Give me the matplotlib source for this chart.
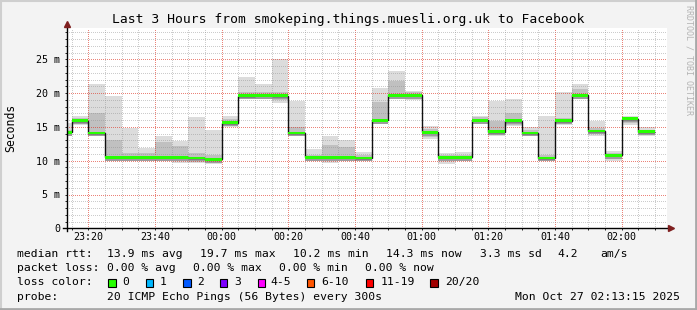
import numpy as np
import pandas as pd
import matplotlib
matplotlib.use("Agg")
import matplotlib.pyplot as plt
import matplotlib.dates as mdates
from matplotlib.patches import Rectangle
from matplotlib.lines import Line2D

# ---------------- data ----------------
bucket_start = pd.date_range("2025-10-26 23:10", "2025-10-27 02:05", freq="5min")  # 36 buckets of 5 min
view_start = pd.Timestamp("2025-10-26 23:13:30")
view_end = pd.Timestamp("2025-10-27 02:13:30")

median_ms = [14.2, 15.9, 14.1, 10.5, 10.5, 10.5, 10.5, 10.5, 10.4, 10.2,
             15.6, 19.6, 19.7, 19.6, 14.1, 10.5, 10.5, 10.5, 10.4, 16.0,
             19.7, 19.7, 14.2, 10.5, 10.5, 16.0, 14.3, 15.9, 14.1, 10.4,
             15.9, 19.7, 14.4, 10.8, 16.2, 14.3]
min_ms = [13.7, 15.3, 13.8, 9.9, 10.0, 10.0, 10.0, 9.7, 9.6, 9.5,
          15.0, 19.2, 19.2, 18.6, 13.6, 9.9, 9.7, 10.1, 10.1, 15.5,
          19.1, 19.0, 13.2, 9.5, 10.2, 15.7, 13.7, 15.1, 13.6, 9.9,
          15.3, 19.1, 13.7, 10.0, 15.3, 13.6]
max_ms = [15.6, 16.6, 21.3, 19.6, 14.8, 11.9, 13.7, 12.9, 16.5, 14.6,
          16.6, 22.4, 21.3, 25.0, 18.8, 11.7, 13.7, 13.0, 11.3, 20.8,
          23.2, 20.3, 15.1, 11.2, 11.3, 16.6, 18.8, 19.1, 15.0, 16.6,
          20.1, 21.3, 15.9, 11.4, 16.6, 15.0]
core_lo_ms = [13.9, 15.5, 13.8, 10.0, 10.1, 10.1, 10.1, 9.9, 9.8, 9.7,
              15.2, 19.2, 19.3, 19.0, 13.7, 10.0, 10.0, 10.2, 10.2, 15.6,
              19.2, 19.2, 13.5, 10.0, 10.3, 15.8, 13.8, 15.3, 13.8, 10.0,
              15.5, 19.3, 13.9, 10.2, 15.6, 13.8]
core_hi_ms = [14.6, 16.3, 17.0, 13.0, 11.2, 11.2, 12.7, 12.2, 11.2, 10.9,
              16.2, 20.2, 20.1, 20.1, 15.0, 10.9, 12.3, 12.1, 10.9, 18.7,
              21.8, 20.1, 14.7, 10.9, 10.9, 16.4, 15.8, 17.0, 14.5, 10.9,
              16.3, 20.6, 14.8, 11.2, 16.5, 14.6]

y_ticks = [0, 5, 10, 15, 20, 25]
y_tick_labels = ["0", "5 m", "10 m", "15 m", "20 m", "25 m"]

title = "Last 3 Hours from smokeping.things.muesli.org.uk to Facebook"
rtt_stats = ["median rtt:", "13.9 ms avg", "19.7 ms max", "10.2 ms min",
             "14.3 ms now", "3.3 ms sd", "4.2", "am/s"]
loss_stats = ["packet loss:", "0.00 % avg", "0.00 % max", "0.00 % min", "0.00 % now"]
loss_labels = ["0", "1", "2", "3", "4-5", "6-10", "11-19", "20/20"]
loss_colors = ["#26ff00", "#00b8ff", "#0059ff", "#7e00ff", "#ff00ff", "#ff5500", "#ff0000", "#a10000"]
probe_text = "20 ICMP Echo Pings (56 Bytes) every 300s"
stamp_text = "Mon Oct 27 02:13:15 2025"

# ---------------- layout ----------------
W, H = 697, 310
DPI = 100
MONO = "DejaVu Sans Mono"
plt.rcParams["font.family"] = MONO

fig = plt.figure(figsize=(W / DPI, H / DPI), dpi=DPI, facecolor="#f3f3f3")

def fx(px):
    return px / W

def fy(py):
    return 1 - py / H

ax_l, ax_r, ax_t, ax_b = 66.7, 666.7, 28.3, 228.3
ax = fig.add_axes([fx(ax_l), fy(ax_b), fx(ax_r - ax_l), (ax_b - ax_t) / H])
ax.set_facecolor("white")

x = mdates.date2num(bucket_start.to_pydatetime())
width = 5.0 / 1440.0
med = np.array(median_ms)
lo = np.array(min_ms)
hi = np.array(max_ms)
clo = np.array(core_lo_ms)
chi = np.array(core_hi_ms)

ax.bar(x, hi - lo, bottom=lo, width=width, align="edge", color="#dcdcdc", lw=0, zorder=1)
ax.bar(x, chi - clo, bottom=clo, width=width, align="edge", color="#c0c0c0", lw=0, zorder=1.1)
ax.bar(x, np.full_like(med, 0.7), bottom=med - 0.5, width=width, align="edge",
       color="#9c9c9c", lw=0, zorder=1.2)
edges = np.append(x, x[-1] + width)
ax.stairs(med, edges, baseline=None, color="#111111", lw=1.0, zorder=3)
ax.bar(x, np.full_like(med, 0.42), bottom=med - 0.21, width=width, align="edge",
       color=loss_colors[0], lw=0, zorder=4)

ax.set_xlim(mdates.date2num(view_start.to_pydatetime()), mdates.date2num(view_end.to_pydatetime()))
ax.set_ylim(0, (ax_b - ax_t) / 6.76)

# ticks / grid
ax.xaxis.set_major_locator(mdates.MinuteLocator(byminute=[0, 20, 40]))
ax.xaxis.set_minor_locator(mdates.MinuteLocator(byminute=[5, 10, 15, 25, 30, 35, 45, 50, 55]))
ax.xaxis.set_major_formatter(mdates.DateFormatter("%H:%M"))
ax.set_yticks(y_ticks)
ax.set_yticklabels(y_tick_labels)
ax.set_yticks([v for v in range(0, 30) if v % 5 != 0], minor=True)

ax.set_axisbelow(False)
ax.grid(which="major", color="#de3020", alpha=0.6, lw=1.0, ls=(0, (0.72, 1.44)), antialiased=False)
ax.grid(which="minor", color="#8f8f8f", alpha=0.45, lw=1.0, ls=(0, (0.72, 1.44)), antialiased=False)

ax.tick_params(which="both", direction="out", length=1.5, width=0.7, color="#222222")
ax.tick_params(axis="x", which="major", labelsize=7.2, pad=1.5)
ax.tick_params(axis="y", which="major", labelsize=7.2, pad=3.0)
for lab in ax.get_xticklabels() + ax.get_yticklabels():
    lab.set_family(MONO)

for s in ax.spines.values():
    s.set_visible(False)

# axis lines with arrows
ax_w = ax_r - ax_l
ax_h = ax_b - ax_t
ax.add_line(Line2D([(62.7 - ax_l) / ax_w, (670 - ax_l) / ax_w], [0, 0], transform=ax.transAxes,
                   color="black", lw=1.0, clip_on=False, zorder=5))
ax.add_line(Line2D([0, 0], [-(231 - ax_b) / ax_h, (ax_b - 24) / ax_h], transform=ax.transAxes,
                   color="black", lw=1.0, clip_on=False, zorder=5))
ax.plot([(670.5 - ax_l) / ax_w], [0], marker=">", ms=4.5, color="#7f1f1f", mec="#7f1f1f",
        transform=ax.transAxes, clip_on=False, zorder=6)
ax.plot([0], [(ax_b - 23.5) / ax_h], marker="^", ms=4.5, color="#7f1f1f", mec="#7f1f1f",
        transform=ax.transAxes, clip_on=False, zorder=6)

# texts
fig.text(fx(348.5), fy(19), title, ha="center", va="center", fontsize=9.4, family=MONO)
fig.text(fx(10.7), fy(127.5), "Seconds", rotation=90, ha="center", va="center", fontsize=8.3, family=MONO)
fig.text(fx(688.5), fy(5), "RRDTOOL / TOBI OETIKER", rotation=270, ha="center", va="top",
         fontsize=6.0, family=MONO, color="#b4b4b4")

LEG = 8.2
rtt_x = [16.7, 107.3, 200, 293.3, 386.3, 479.7, 557.7, 600.3]
for s, px in zip(rtt_stats, rtt_x):
    fig.text(fx(px), fy(254.3), s, ha="left", va="center", fontsize=LEG, family=MONO)
loss_x = [16.7, 107.3, 193.3, 279.3, 365.3]
for s, px in zip(loss_stats, loss_x):
    fig.text(fx(px), fy(268.3), s, ha="left", va="center", fontsize=LEG, family=MONO)
fig.text(fx(16.7), fy(282.3), "loss color:", ha="left", va="center", fontsize=LEG, family=MONO)
box_x = [108.3, 145.7, 183.3, 220, 257.7, 306.7, 366, 430.3]
lab_x = [122.7, 160, 197.3, 234.3, 270.7, 321.7, 380.3, 445.3]
for lab, col, bx, lx in zip(loss_labels, loss_colors, box_x, lab_x):
    fig.add_artist(Rectangle((fx(bx), fy(286.5)), 7.2 / W, 7.2 / H, transform=fig.transFigure,
                             facecolor=col, edgecolor="black", lw=0.8))
    fig.text(fx(lx), fy(282.3), lab, ha="left", va="center", fontsize=LEG, family=MONO)
fig.text(fx(16.7), fy(296.5), "probe:", ha="left", va="center", fontsize=LEG, family=MONO)
fig.text(fx(107.3), fy(296.5), probe_text, ha="left", va="center", fontsize=LEG, family=MONO)
fig.text(fx(680.3), fy(296.5), stamp_text, ha="right", va="center", fontsize=LEG, family=MONO)

# frame
fig.add_artist(Line2D([0, 1], [fy(0.8)] * 2, transform=fig.transFigure, color="#cfcfcf", lw=1.5))
fig.add_artist(Line2D([fx(0.8)] * 2, [0, 1], transform=fig.transFigure, color="#cfcfcf", lw=1.5))
fig.add_artist(Line2D([0, 1], [fy(H - 1.2)] * 2, transform=fig.transFigure, color="#a8a8a8", lw=2))
fig.add_artist(Line2D([fx(W - 1.2)] * 2, [0, 1], transform=fig.transFigure, color="#a8a8a8", lw=2))

fig.savefig("out.png", dpi=DPI, facecolor=fig.get_facecolor())
